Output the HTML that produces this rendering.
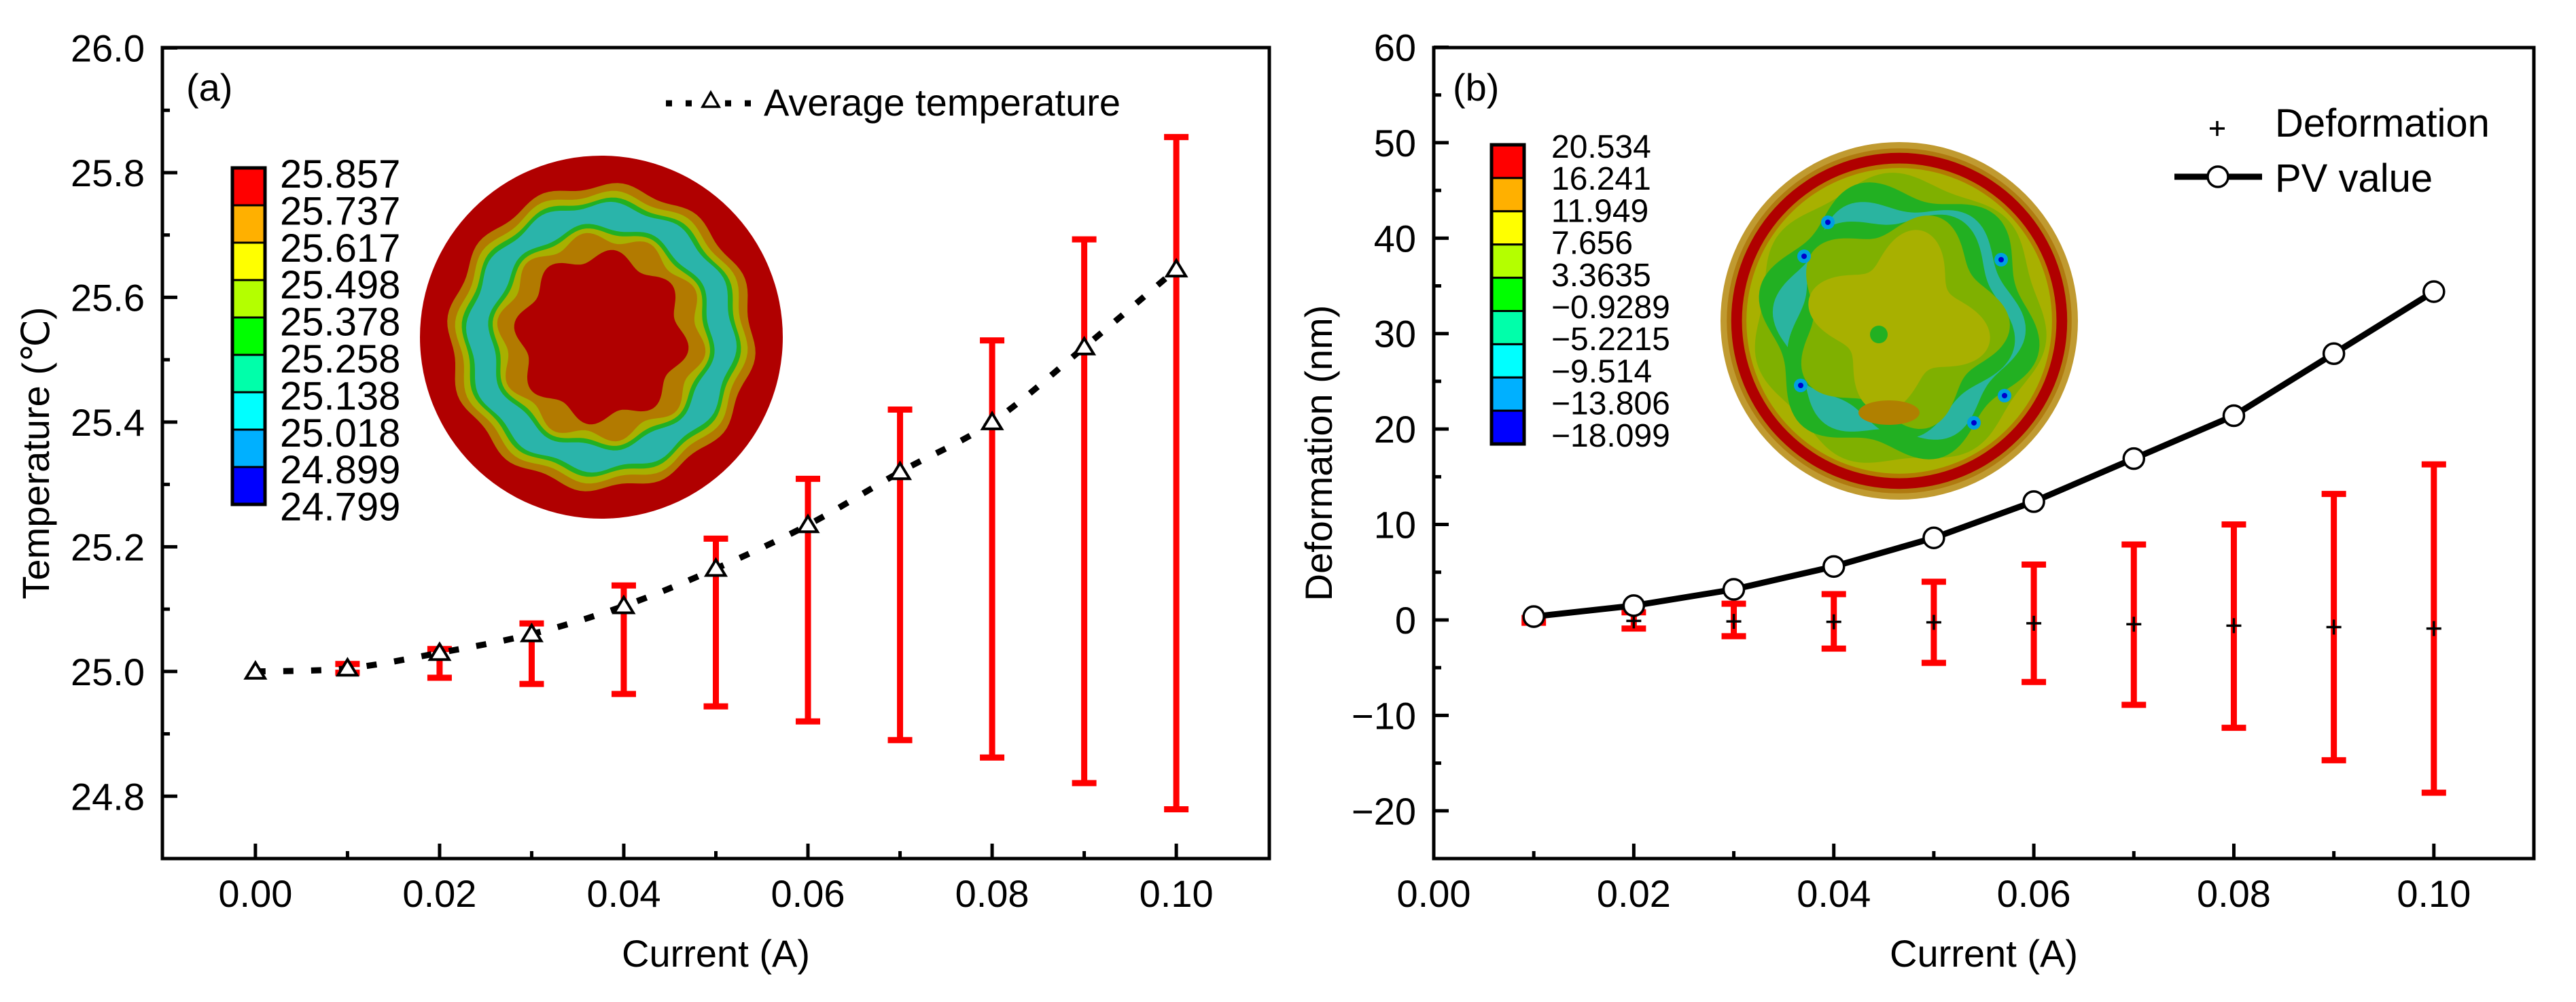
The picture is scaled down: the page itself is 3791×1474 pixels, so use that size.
<!DOCTYPE html>
<html><head><meta charset="utf-8"><style>
html,body{margin:0;padding:0;background:#fff}
svg{display:block}
text{font-family:"Liberation Sans",Arial,sans-serif;fill:#000}
</style></head><body>
<svg id="fig" xmlns="http://www.w3.org/2000/svg" width="3791" height="1474" viewBox="0 0 3791 1474">
<g id="pa"></g>
<g id="pb"></g>
</svg>
<script>
// ---------- Panel (a) data ----------
const aCurrent = [0, 0.01, 0.02, 0.03, 0.04, 0.05, 0.06, 0.07, 0.08, 0.09, 0.10];
const aTemp    = [25.0, 25.005, 25.03, 25.06, 25.105, 25.165, 25.235, 25.32, 25.40, 25.52, 25.645];
const aErrHigh = [null, 25.012, 25.036, 25.077, 25.138, 25.213, 25.309, 25.42, 25.531, 25.693, 25.857];
const aErrLow  = [null, 24.998, 24.99, 24.98, 24.964, 24.944, 24.92, 24.89, 24.862, 24.821, 24.779];
const aYTicks  = [24.8, 25.0, 25.2, 25.4, 25.6, 25.8, 26.0];
const aYTickLabels = ["24.8","25.0","25.2","25.4","25.6","25.8","26.0"];
const aXTicks  = [0, 0.02, 0.04, 0.06, 0.08, 0.10];
const aXTickLabels = ["0.00","0.02","0.04","0.06","0.08","0.10"];
const aCbarLabels = ["25.857","25.737","25.617","25.498","25.378","25.258","25.138","25.018","24.899","24.799"];

// ---------- Panel (b) data ----------
const bCurrent = [0.01, 0.02, 0.03, 0.04, 0.05, 0.06, 0.07, 0.08, 0.09, 0.10];
const bPV      = [0.35, 1.5, 3.2, 5.6, 8.6, 12.4, 16.9, 21.4, 27.9, 34.4];
const bDef     = [-0.05, -0.1, -0.15, -0.2, -0.25, -0.35, -0.45, -0.6, -0.75, -0.9];
const bErrHigh = [0.2, 0.8, 1.7, 2.7, 4.0, 5.8, 7.9, 10.0, 13.2, 16.3];
const bErrLow  = [-0.3, -0.9, -1.7, -3.0, -4.5, -6.5, -8.9, -11.3, -14.7, -18.1];
const bYTicks  = [-20, -10, 0, 10, 20, 30, 40, 50, 60];
const bYTickLabels = ["\u221220","\u221210","0","10","20","30","40","50","60"];
const bXTicks  = [0, 0.02, 0.04, 0.06, 0.08, 0.10];
const bXTickLabels = ["0.00","0.02","0.04","0.06","0.08","0.10"];
const bCbarLabels = ["20.534","16.241","11.949","7.656","3.3635","\u22120.9289","\u22125.2215","\u22129.514","\u221213.806","\u221218.099"];

const cbarColors = ["#ff0000","#ffb000","#ffff00","#b4ff00","#00ff00","#00ffaa","#00ffff","#00b0ff","#0000ff"];
const NS = "http://www.w3.org/2000/svg";
function mk(parent, tag, attrs, txt){
  const e = document.createElementNS(NS, tag);
  for (const k in attrs) e.setAttribute(k, attrs[k]);
  if (txt !== undefined) e.textContent = txt;
  parent.appendChild(e); return e;
}
function linScale(d0,d1,r0,r1){ return v => r0 + (v-d0)/(d1-d0)*(r1-r0); }
function smoothPath(pts){
  let d = "M"+pts[0][0]+","+pts[0][1];
  for (let i=0;i<pts.length-1;i++){
    const p0=pts[Math.max(0,i-1)], p1=pts[i], p2=pts[i+1], p3=pts[Math.min(pts.length-1,i+2)];
    const c1x=p1[0]+(p2[0]-p0[0])/6, c1y=p1[1]+(p2[1]-p0[1])/6;
    const c2x=p2[0]-(p3[0]-p1[0])/6, c2y=p2[1]-(p3[1]-p1[1])/6;
    d += " C"+c1x+","+c1y+" "+c2x+","+c2y+" "+p2[0]+","+p2[1];
  }
  return d;
}
function blob(cx,cy,R,k,amp,n,ph){
  let d="";
  for(let i=0;i<=180;i++){const t=i/180*2*Math.PI;const r=R*(k+amp*Math.sin(n*t+ph));
    d+=(i?"L":"M")+(cx+r*Math.cos(t)).toFixed(1)+","+(cy+r*Math.sin(t)).toFixed(1);}
  return d+"Z";
}

function drawAxes(g, L, R, T, B, xs, ys, xTicks, xLabels, xMinor, yTicks, yLabels, yMinor, xTitle, yTitle, yTitleX){
  let e;
  e = mk(g,"rect",{x:L,y:T,width:R-L,height:B-T,fill:"none",stroke:"#000","stroke-width":5});
   
  xTicks.forEach((v,i)=>{
    e = mk(g,"line",{x1:xs(v),x2:xs(v),y1:B,y2:B-22,stroke:"#000","stroke-width":5});
     
    e = mk(g,"text",{x:xs(v),y:1334,"font-size":56,"text-anchor":"middle"},xLabels[i]);
     
  });
  xMinor.forEach(v=>{
    e = mk(g,"line",{x1:xs(v),x2:xs(v),y1:B,y2:B-11,stroke:"#000","stroke-width":5});
     
  });
  yTicks.forEach((v,i)=>{
    e = mk(g,"line",{x1:L,x2:L+22,y1:ys(v),y2:ys(v),stroke:"#000","stroke-width":5});
     
    e = mk(g,"text",{x:L-26,y:ys(v)+20,"font-size":56,"text-anchor":"end"},yLabels[i]);
     
  });
  yMinor.forEach(v=>{
    e = mk(g,"line",{x1:L,x2:L+11,y1:ys(v),y2:ys(v),stroke:"#000","stroke-width":5});
     
  });
  e = mk(g,"text",{x:(L+R)/2,y:1422,"font-size":56,"text-anchor":"middle"},xTitle);
   
  const cy=(T+B)/2;
  e = mk(g,"text",{x:yTitleX,y:cy,"font-size":56,"text-anchor":"middle",transform:"rotate(-90 "+yTitleX+" "+cy+")"},yTitle);
   
}

function drawColorbar(g, x, top, cell, labels, lx, lbase, lstep, fs){
  let e;
  cbarColors.forEach((c,i)=>{
    e = mk(g,"rect",{x:x,y:top+i*cell,width:48,height:cell,fill:c,stroke:"#000","stroke-width":3});
     
  });
  e = mk(g,"rect",{x:x,y:top,width:48,height:cell*cbarColors.length,fill:"none",stroke:"#000","stroke-width":5});
   
  labels.forEach((t,i)=>{
    e = mk(g,"text",{x:lx,y:lbase+i*lstep,"font-size":fs},t);
     
  });
}

// ================= Panel A =================
(function(){
  const g = document.getElementById('pa');
  const L=239,R=1868,T=70,B=1263;
  const xs = linScale(-0.0101,0.1101,L,R);
  const ys = linScale(24.70,26.0,B,70.5);
  drawAxes(g,L,R,T,B,xs,ys,aXTicks,aXTickLabels,[0.01,0.03,0.05,0.07,0.09],
    aYTicks,aYTickLabels,[24.9,25.1,25.3,25.5,25.7,25.9],"Current (A)","Temperature (\u2103)",72);
  let e;
  // inset temperature map
  const ig = mk(g,"g",{});  
  const cx=885, cy=496, r=267;
  mk(ig,"circle",{cx:cx,cy:cy,r:r,fill:"#b00000"});
  mk(ig,"path",{d:blob(cx,cy,r,0.835,0.02,12,0),fill:"#b27a00"});
  mk(ig,"path",{d:blob(cx,cy,r,0.79,0.02,12,0.3),fill:"#a8b000"});
  mk(ig,"path",{d:blob(cx,cy,r,0.755,0.018,12,0.3),fill:"#22b022"});
  mk(ig,"path",{d:blob(cx,cy,r,0.73,0.018,12,0.5),fill:"#2ab4aa"});
  mk(ig,"path",{d:blob(cx,cy,r,0.61,0.02,10,0),fill:"#22b022"});
  mk(ig,"path",{d:blob(cx,cy,r,0.585,0.02,10,0),fill:"#a8b000"});
  mk(ig,"path",{d:blob(cx,cy,r,0.55,0.03,10,0),fill:"#b27a00"});
  mk(ig,"path",{d:blob(cx,cy,r,0.45,0.035,8,0.4),fill:"#b00000"});
  drawColorbar(g,342,247,55,aCbarLabels,412,276,54.4,58);
  e = mk(g,"text",{x:274,y:148,"font-size":56},"(a)");
   
  // error bars
  aCurrent.forEach((c,i)=>{
    if (aErrHigh[i]===null) return;
    const x=xs(c), y1=ys(aErrHigh[i]), y2=ys(aErrLow[i]);
    e = mk(g,"path",{d:"M"+x+","+y1+"V"+y2+"M"+(x-18)+","+y1+"H"+(x+18)+"M"+(x-18)+","+y2+"H"+(x+18),stroke:"#ff0000","stroke-width":9,fill:"none"});
     
  });
  const pts = aCurrent.map((c,i)=>[xs(c),ys(aTemp[i])]);
  e = mk(g,"path",{d:smoothPath(pts),fill:"none",stroke:"#000","stroke-width":9,"stroke-dasharray":"15 26"});
   
  pts.forEach(p=>{
    e = mk(g,"path",{d:"M"+p[0]+","+(p[1]-13)+"L"+(p[0]+14)+","+(p[1]+10)+"L"+(p[0]-14)+","+(p[1]+10)+"Z",fill:"#fff",stroke:"#000","stroke-width":4});
     
  });
  // legend
  const lg = mk(g,"g",{});  
  mk(lg,"path",{d:"M980,152H1112",stroke:"#000","stroke-width":9,"stroke-dasharray":"9 20",fill:"none"});
  mk(lg,"path",{d:"M1046,136L1058,157L1034,157Z",fill:"#fff",stroke:"#000","stroke-width":3.5});
  mk(lg,"text",{x:1124,y:170,"font-size":56},"Average temperature");
})();

// ================= Panel B =================
(function(){
  const g = document.getElementById('pb');
  const L=2110,R=3729,T=70,B=1263;
  const xs = linScale(0,0.11,L,R);
  const ys = linScale(-25,60,B,69.5);
  drawAxes(g,L,R,T,B,xs,ys,bXTicks,bXTickLabels,[0.01,0.03,0.05,0.07,0.09],
    bYTicks,bYTickLabels,[-15,-5,5,15,25,35,45,55],"Current (A)","Deformation (nm)",1960);
  let e;
  const ig = mk(g,"g",{});  
  const cx=2795, cy=472, r=263;
  mk(ig,"circle",{cx:cx,cy:cy,r:r,fill:"#c09a30"});
  mk(ig,"circle",{cx:cx,cy:cy,r:r*0.965,fill:"#b07a10"});
  mk(ig,"circle",{cx:cx,cy:cy,r:r*0.94,fill:"#b00000"});
  mk(ig,"circle",{cx:cx,cy:cy,r:r*0.88,fill:"#b27a00"});
  mk(ig,"circle",{cx:cx,cy:cy,r:r*0.855,fill:"#a8b000"});
  mk(ig,"path",{d:blob(cx,cy,r,0.8,0.03,7,0.5),fill:"#7fb000"});
  mk(ig,"path",{d:blob(cx,cy,r,0.74,0.06,6,0.2),fill:"#22b022"});
  mk(ig,"path",{d:blob(cx,cy,r,0.66,0.05,6,1.0),fill:"#2ab4a0"});
  mk(ig,"path",{d:blob(cx,cy,r,0.6,0.06,5,0.4),fill:"#22b022"});
  mk(ig,"path",{d:blob(cx,cy,r,0.55,0.07,5,1.3),fill:"#7fb000"});
  mk(ig,"path",{d:blob(cx,cy,r,0.42,0.1,4,0.6),fill:"#a8b000"});
  mk(ig,"ellipse",{cx:cx-15,cy:cy+135,rx:45,ry:18,fill:"#b08000"});
  mk(ig,"circle",{cx:cx-30,cy:cy+20,r:13,fill:"#22b022"});
  [[-105,-145],[-140,-95],[150,-90],[-145,95],[155,110],[110,150]].forEach(p=>{
    mk(ig,"circle",{cx:cx+p[0],cy:cy+p[1],r:10,fill:"#00a0e0"});
    mk(ig,"circle",{cx:cx+p[0],cy:cy+p[1],r:4,fill:"#0000cc"});
  });
  drawColorbar(g,2195,213,48.9,bCbarLabels,2283,232,47.2,48);
  e = mk(g,"text",{x:2138,y:148,"font-size":56},"(b)");
   
  bCurrent.forEach((c,i)=>{
    const x=xs(c), y1=ys(bErrHigh[i]), y2=ys(bErrLow[i]);
    e = mk(g,"path",{d:"M"+x+","+y1+"V"+y2+"M"+(x-18)+","+y1+"H"+(x+18)+"M"+(x-18)+","+y2+"H"+(x+18),stroke:"#ff0000","stroke-width":9,fill:"none"});
     
  });
  bCurrent.forEach((c,i)=>{
    const x=xs(c), y=ys(bDef[i]);
    e = mk(g,"path",{d:"M"+(x-11)+","+y+"H"+(x+11)+"M"+x+","+(y-11)+"V"+(y+11),stroke:"#000","stroke-width":3.5});
     
  });
  const pts = bCurrent.map((c,i)=>[xs(c),ys(bPV[i])]);
  e = mk(g,"polyline",{points:pts.map(p=>p.join(",")).join(" "),fill:"none",stroke:"#000","stroke-width":9,"stroke-linejoin":"round"});
   
  pts.forEach(p=>{
    e = mk(g,"circle",{cx:p[0],cy:p[1],r:15,fill:"#fff",stroke:"#000","stroke-width":3.5});
     
  });
  const lg1 = mk(g,"g",{});  
  mk(lg1,"path",{d:"M3252,189H3274M3263,178V200",stroke:"#000","stroke-width":3.5});
  mk(lg1,"text",{x:3348,y:201,"font-size":58},"Deformation");
  const lg2 = mk(g,"g",{});  
  mk(lg2,"path",{d:"M3200,260H3329",stroke:"#000","stroke-width":9});
  mk(lg2,"circle",{cx:3264,cy:260,r:15,fill:"#fff",stroke:"#000","stroke-width":3.5});
  mk(lg2,"text",{x:3348,y:282,"font-size":58},"PV value");
})();
</script>
</body></html>
